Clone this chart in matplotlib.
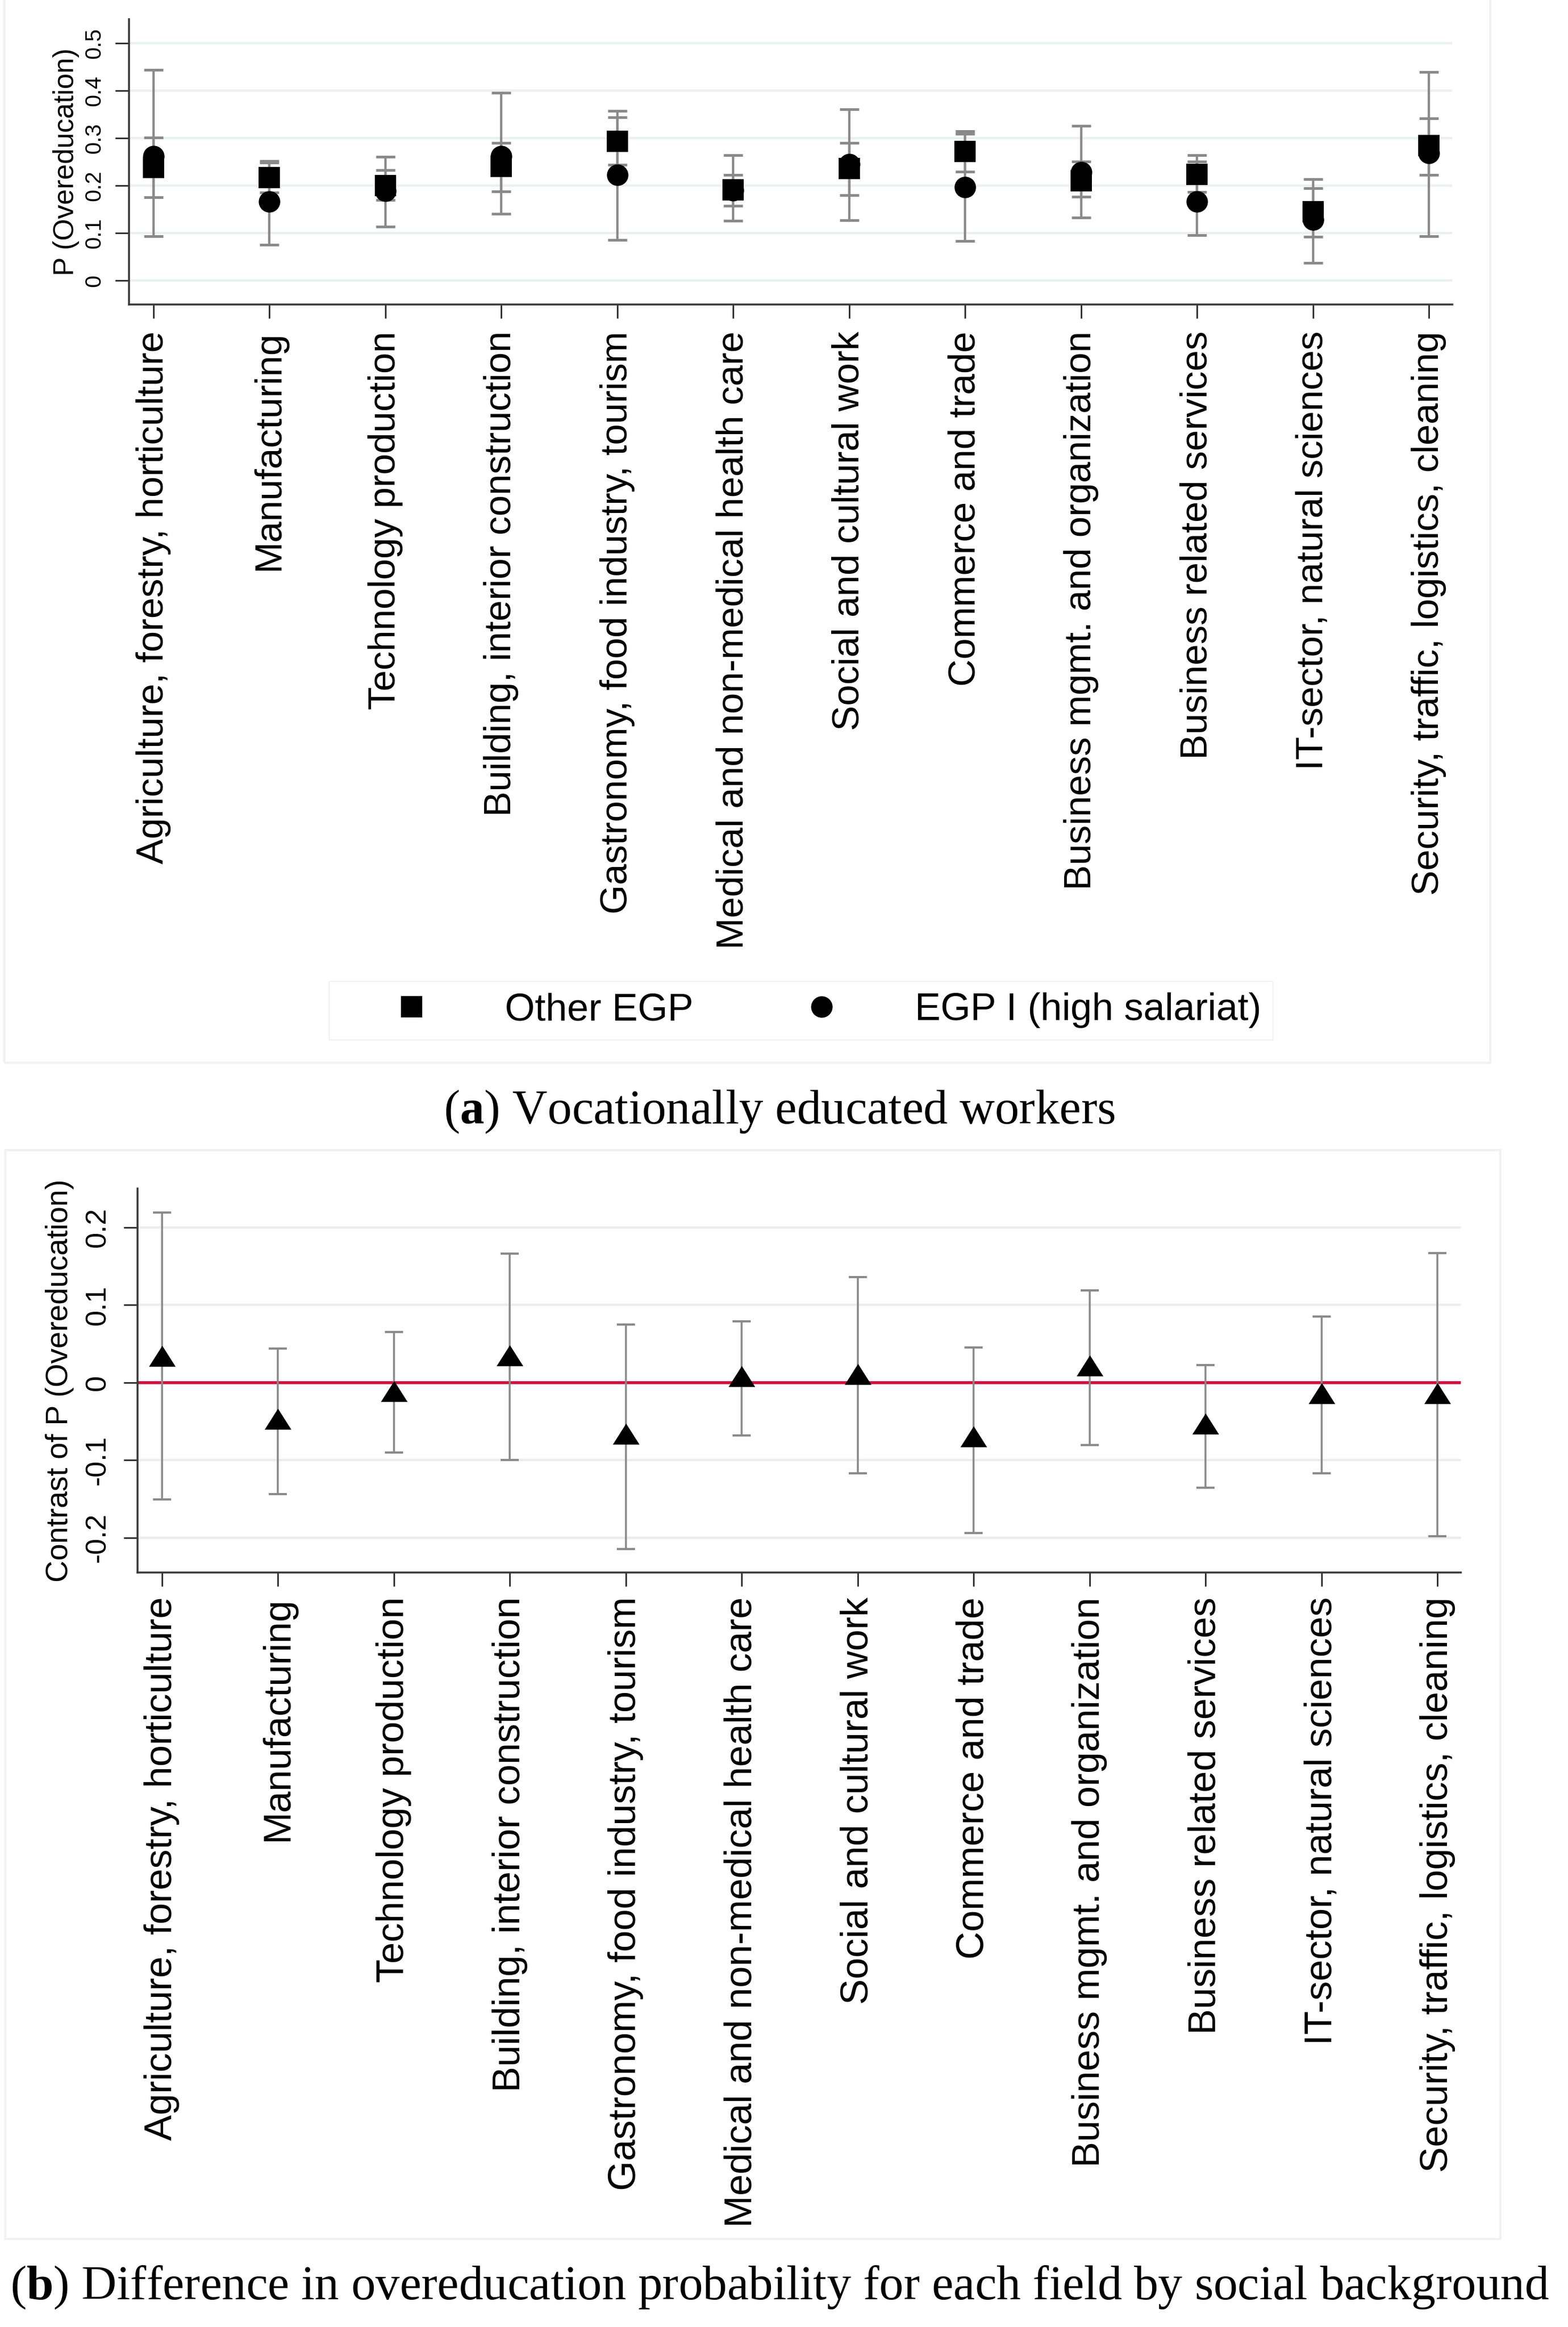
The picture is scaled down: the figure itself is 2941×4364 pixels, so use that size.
import numpy as np
import matplotlib.pyplot as plt
from matplotlib.patches import Rectangle

plt.rcParams['font.family'] = ['Liberation Sans', 'DejaVu Sans']
plt.rcParams['axes.unicode_minus'] = False
plt.rcParams['mathtext.fontset'] = 'custom'
plt.rcParams['mathtext.rm'] = 'Liberation Serif'
plt.rcParams['mathtext.bf'] = 'Liberation Serif:bold'

fields = ['Agriculture, forestry, horticulture', 'Manufacturing',
          'Technology production', 'Building, interior construction',
          'Gastronomy, food industry, tourism',
          'Medical and non-medical health care', 'Social and cultural work',
          'Commerce and trade', 'Business mgmt. and organization',
          'Business related services', 'IT-sector, natural sciences',
          'Security, traffic, logistics, cleaning']

# panel a: predicted P(overeducation), Other EGP (squares)
other_p = [0.238, 0.217, 0.200, 0.240, 0.293, 0.191, 0.236, 0.272, 0.210, 0.224, 0.145, 0.284]
other_lo = [0.175, 0.185, 0.170, 0.188, 0.244, 0.158, 0.180, 0.229, 0.176, 0.187, 0.092, 0.222]
other_hi = [0.301, 0.252, 0.233, 0.290, 0.344, 0.223, 0.290, 0.309, 0.250, 0.264, 0.194, 0.341]
# EGP I (circles)
egp_p = [0.262, 0.166, 0.189, 0.262, 0.222, 0.190, 0.245, 0.197, 0.228, 0.166, 0.128, 0.268]
egp_lo = [0.094, 0.076, 0.114, 0.141, 0.086, 0.126, 0.127, 0.084, 0.133, 0.096, 0.037, 0.093]
egp_hi = [0.444, 0.248, 0.261, 0.395, 0.357, 0.264, 0.360, 0.315, 0.326, 0.250, 0.214, 0.439]

# panel b: contrast
diff_p = [0.034, -0.047, -0.011, 0.035, -0.066, 0.008, 0.011, -0.070, 0.022, -0.053, -0.014, -0.014]
diff_lo = [-0.151, -0.144, -0.090, -0.100, -0.215, -0.068, -0.117, -0.194, -0.081, -0.136, -0.117, -0.198]
diff_hi = [0.219, 0.044, 0.065, 0.166, 0.075, 0.079, 0.136, 0.045, 0.119, 0.0225, 0.085, 0.167]

W, H = 2941, 4364
x = np.arange(1, len(fields) + 1)

def px_axes(l, t, r, b):
    return [l / W, 1 - b / H, (r - l) / W, (b - t) / H]

def style(ax, gridcol, ytick_fs, xtick_fs, pad_x, pad_y):
    for s in ['top', 'right']:
        ax.spines[s].set_visible(False)
    for s in ['left', 'bottom']:
        ax.spines[s].set_color('#3a3a3a')
        ax.spines[s].set_linewidth(2.6)
    ax.yaxis.grid(True, color=gridcol, lw=3.2)
    ax.set_axisbelow(True)
    ax.tick_params(axis='both', length=19, width=2.2, color='#333333')
    ax.tick_params(axis='x', pad=pad_x, labelsize=xtick_fs)
    ax.tick_params(axis='y', pad=pad_y, labelsize=ytick_fs)
    ax.set_xlim(0.79, 12.2)

fig = plt.figure(figsize=(W / 100, H / 100), dpi=100)

# faint graph-region frames
for (x0, y0, x1, y1) in [(8, -10, 2795, 1993), (10, 2157, 2814, 4199)]:
    fig.patches.append(Rectangle((x0 / W, 1 - y1 / H), (x1 - x0) / W, (y1 - y0) / H,
                                 transform=fig.transFigure, fill=False,
                                 edgecolor='#eef2f2', lw=3))

# ---- panel a
ax1 = fig.add_axes(px_axes(242, 36, 2724, 571))
ep = dict(fmt='none', ecolor='#8a8a8a', elinewidth=3.2, capsize=13.3, capthick=3.6, zorder=2)
ax1.errorbar(x, other_p, yerr=[np.subtract(other_p, other_lo), np.subtract(other_hi, other_p)], **ep)
ax1.errorbar(x, egp_p, yerr=[np.subtract(egp_p, egp_lo), np.subtract(egp_hi, egp_p)], **ep)
sq, = ax1.plot(x, other_p, 's', color='black', ms=29, mew=0, zorder=3, label='Other EGP')
ci, = ax1.plot(x, egp_p, 'o', color='black', ms=29, mew=0, zorder=4, label='EGP I (high salariat)')
style(ax1, '#e9f1f2', 30, 51, 17, 13)
ax1.set_ylim(-0.05, 0.55)
yt = [0, 0.1, 0.2, 0.3, 0.4, 0.5]
ax1.set_yticks(yt, ['0', '0.1', '0.2', '0.3', '0.4', '0.5'], rotation=90, va='center')
ax1.set_xticks(x, fields, rotation=90)
ax1.set_ylabel('P (Overeducation)', fontsize=38, labelpad=6)

fig.legend(handles=[sq, ci], loc='center', bbox_to_anchor=(1502 / W, 1 - 1895 / H),
           ncol=2, fontsize=52, frameon=True, fancybox=False, edgecolor='#e4ecec',
           framealpha=1, borderpad=0.3, handlelength=3.7, handletextpad=0.58,
           columnspacing=1.47)

fig.text(1462 / W, 1 - 2107 / H, r'($\mathbf{a}$) Vocationally educated workers',
         ha='center', va='baseline', fontsize=65.5, family='Liberation Serif')

# ---- panel b
ax2 = fig.add_axes(px_axes(258, 2229, 2740, 2949))
ax2.axhline(0, color='#d0103c', lw=4, zorder=1.5)
ax2.errorbar(x, diff_p, yerr=[np.subtract(diff_p, diff_lo), np.subtract(diff_hi, diff_p)],
             fmt='none', ecolor='#8a8a8a', elinewidth=2.6, capsize=12, capthick=3, zorder=2)
tri = [(0, 0.787), (-1, -0.787), (1, -0.787)]
ax2.plot(x, diff_p, linestyle='none', marker=tri, color='black', ms=36, mew=0, zorder=3)
style(ax2, '#ececec', 39, 52, 14, 17)
ax2.set_ylim(-0.245, 0.25)
ax2.set_yticks([-0.2, -0.1, 0, 0.1, 0.2], ['-0.2', '-0.1', '0', '0.1', '0.2'], rotation=90, va='center')
ax2.set_xticks(x, fields, rotation=90)
ax2.set_ylabel('Contrast of P (Overeducation)', fontsize=41, labelpad=14)

fig.text(1462 / W, 1 - 4312 / H,
         r'($\mathbf{b}$) Difference in overeducation probability for each field by social background',
         ha='center', va='baseline', fontsize=65.5, family='Liberation Serif')

fig.savefig('out.png', dpi=100)
